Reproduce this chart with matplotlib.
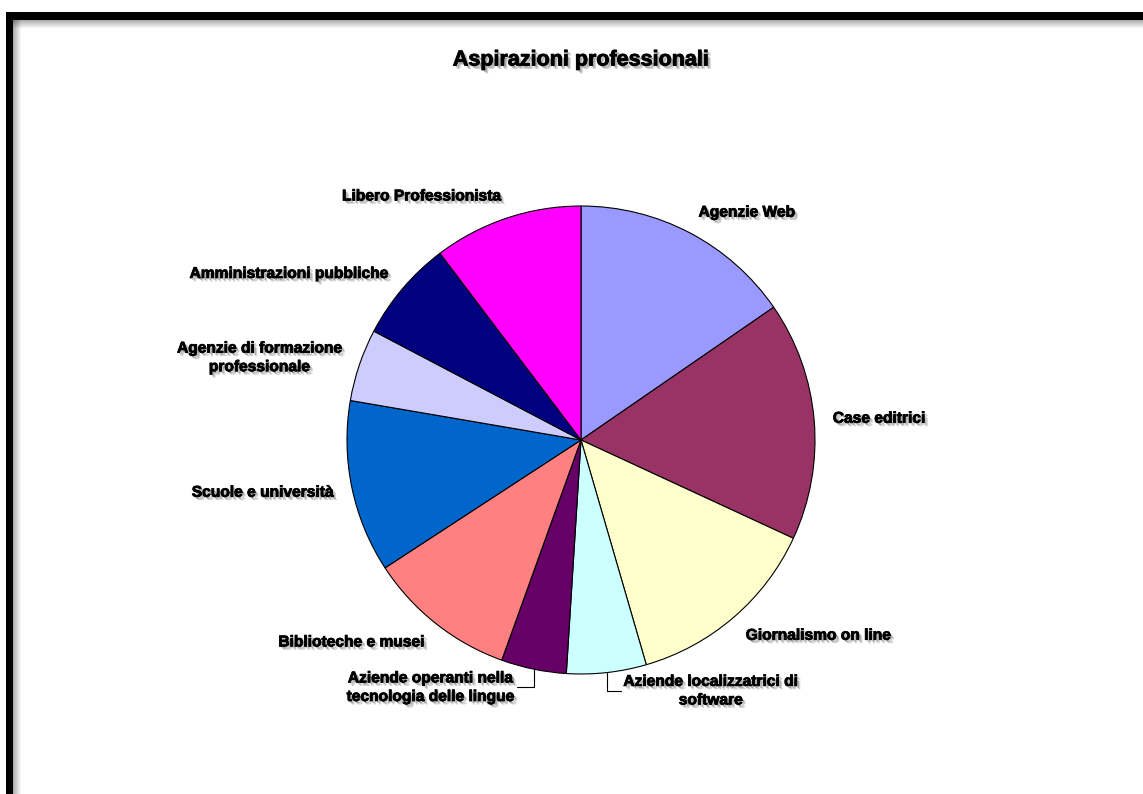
import numpy as np
import matplotlib
matplotlib.use("Agg")
import matplotlib.pyplot as plt
import matplotlib.patheffects as pe
from matplotlib.patches import Rectangle

plt.rcParams['font.family'] = ['Liberation Sans', 'DejaVu Sans']

# categorie e quote (%)
categorie = [
    "Agenzie Web",
    "Case editrici",
    "Giornalismo on line",
    "Aziende localizzatrici di\nsoftware",
    "Aziende operanti nella\ntecnologia delle lingue",
    "Biblioteche e musei",
    "Scuole e università",
    "Agenzie di formazione\nprofessionale",
    "Amministrazioni pubbliche",
    "Libero Professionista",
]
quote = [15.4, 16.5, 13.6, 5.5, 4.5, 10.3, 11.9, 5.0, 7.0, 10.3]
colori = ["#9999FF", "#993366", "#FFFFCC", "#CCFFFF", "#660066",
          "#FF8080", "#0066CC", "#CCCCFF", "#000080", "#FF00FF"]

W, H = 1143, 794
fig = plt.figure(figsize=(W / 100, H / 100), dpi=100)

# cornice nera con ombra interna
def rect_px(x, y, w, h, **kw):
    fig.patches.append(Rectangle((x / W, 1 - (y + h) / H), w / W, h / H,
                                 transform=fig.transFigure, **kw))

for i in range(8):
    a = 0.32 * (1 - i / 8)
    rect_px(13 + i, 20, 1, H, color="black", alpha=a, lw=0)
    rect_px(13, 20 + i, W, 1, color="black", alpha=a, lw=0)
rect_px(6, 12, W, 8, color="black", lw=0)
rect_px(6, 12, 7, H, color="black", lw=0)

# ombra morbida del testo
ombra_testo = [pe.SimplePatchShadow(offset=(2.5, -2.5), shadow_rgbFace="black", alpha=0.18),
               pe.SimplePatchShadow(offset=(1.5, -1.5), shadow_rgbFace="black", alpha=0.22),
               pe.Stroke(linewidth=0.6, foreground="black"),
               pe.Normal()]

cx, cy, R = 581, 440, 234
ax = fig.add_axes([(cx - R) / W, (H - cy - R) / H, 2 * R / W, 2 * R / H])
wedges, _ = ax.pie(quote, colors=colori, startangle=90, counterclock=False,
                   wedgeprops=dict(edgecolor="black", linewidth=0.8))
ax.set_xlim(-1, 1)
ax.set_ylim(-1, 1)
ax.set_aspect("equal")
ax.axis("off")

fs = 11.2
for w, lab in zip(wedges, categorie):
    ang = np.deg2rad((w.theta1 + w.theta2) / 2)
    x, y = np.cos(ang), np.sin(ang)
    if "\n" in lab and y < -0.9:
        # fette piccole in basso: etichetta spostata con linea guida
        if x > 0:
            off, ha = (12, -13), "left"
        else:
            off, ha = (-14, -13), "right"
        ax.annotate(lab, xy=(x, y), xytext=off, textcoords="offset points",
                    ha=ha, va="center", multialignment="center",
                    fontsize=fs, fontweight="bold", linespacing=1.3,
                    arrowprops=dict(arrowstyle="-", color="black", lw=0.8,
                                    connectionstyle="angle,angleA=0,angleB=90,rad=0",
                                    shrinkA=0, shrinkB=0),
                    path_effects=ombra_testo)
        continue
    ha = "left" if x > 0 else "right"
    ax.text(1.08 * x, 1.1 * y, lab, ha=ha, va="center", multialignment="center",
            fontsize=fs, fontweight="bold", linespacing=1.3,
            path_effects=ombra_testo)

fig.text(cx / W, 1 - 60 / H, "Aspirazioni professionali", ha="center", va="center",
         fontsize=15.5, fontweight="bold", path_effects=ombra_testo)

fig.savefig("out.png", dpi=100)
